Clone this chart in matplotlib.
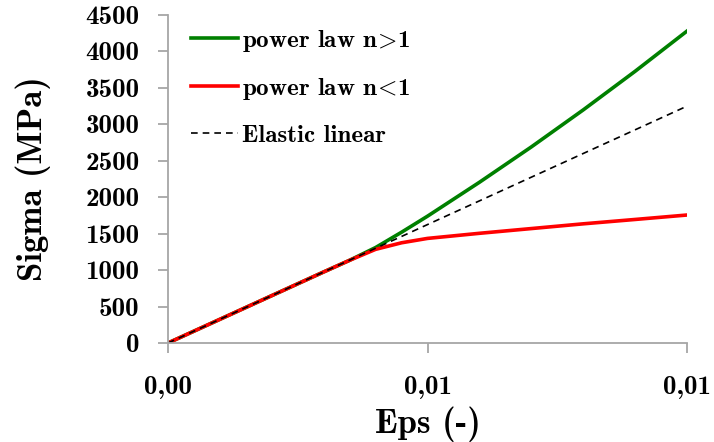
import matplotlib
matplotlib.use('Agg')
import matplotlib.pyplot as plt

# strain values (-) and stress (MPa)
eps = [0, 0.001, 0.002, 0.003, 0.0035, 0.004, 0.0045, 0.005, 0.006, 0.007, 0.008, 0.009, 0.01]
sig_n_gt1 = [0, 325, 650, 975, 1135, 1310, 1520, 1740, 2205, 2690, 3198, 3728, 4280]
sig_n_lt1 = [0, 325, 650, 975, 1135, 1285, 1375, 1435, 1505, 1570, 1635, 1695, 1756]
sig_elastic = [0, 325, 650, 975, 1137, 1300, 1462, 1625, 1950, 2275, 2600, 2925, 3250]

x_ticks = [0, 0.005, 0.01]
x_ticklabels = ['0,00', '0,01', '0,01']
y_ticks = [0, 500, 1000, 1500, 2000, 2500, 3000, 3500, 4000, 4500]

plt.rcParams['font.family'] = 'cmb10'
plt.rcParams['mathtext.fontset'] = 'cm'
plt.rcParams['axes.unicode_minus'] = False

fig = plt.figure(figsize=(7.14, 4.42), dpi=100)
ax = fig.add_axes([0.2353, 0.224, 0.7269, 0.742])

ax.plot(eps, sig_n_gt1, color='#008000', lw=2.6, label=r'power law n$\!>\!$1')
ax.plot(eps, sig_n_lt1, color='#ff0000', lw=2.6, label=r'power law n$\!<\!$1')
ax.plot(eps, sig_elastic, color='black', lw=1.2, ls=(0, (4, 3)), label='Elastic linear')

ax.set_xlim(0, 0.01)
ax.set_ylim(0, 4500)
ax.set_xticks(x_ticks)
ax.set_xticklabels(x_ticklabels)
ax.set_yticks(y_ticks)

for s in ['top', 'right']:
    ax.spines[s].set_visible(False)
for s in ['left', 'bottom']:
    ax.spines[s].set_color('#a6a6a6')
    ax.spines[s].set_linewidth(1.3)
ax.tick_params(axis='both', colors='#a6a6a6', width=1.3, length=7.5, labelsize=19.5,
               labelcolor='black')
ax.tick_params(axis='x', pad=16)
ax.tick_params(axis='y', pad=13)

ax.set_xlabel('Eps (-)', fontsize=25, labelpad=6)
ax.set_ylabel('Sigma (MPa)', fontsize=25, labelpad=25)

ax.legend(loc='upper left', bbox_to_anchor=(0.0, 1.03), frameon=False, fontsize=18,
          handlelength=1.9, handletextpad=0.15, labelspacing=0.9)

fig.savefig('out.png', dpi=100)
